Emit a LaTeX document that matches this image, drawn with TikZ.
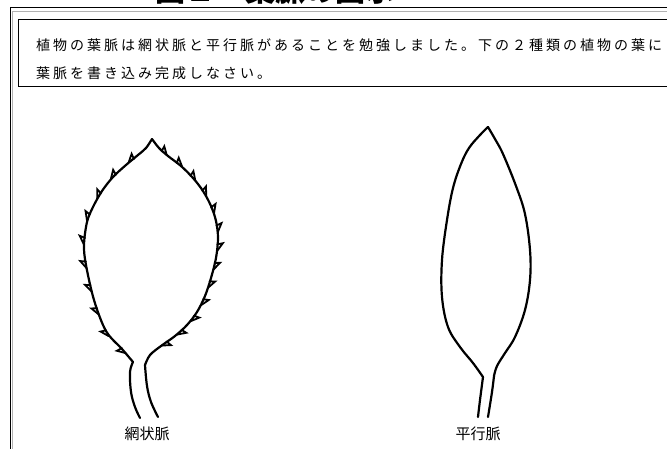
\documentclass[tikz,border=0pt]{standalone}
\usepackage{fontspec}
\newfontfamily\jp{Noto Sans CJK JP}
\newfontfamily\jpspaced[LetterSpace=21.4]{Noto Sans CJK JP}
\usetikzlibrary{decorations.markings}

\tikzset{
  frameline/.style={line width=1.3pt, draw=black},
  frameshade/.style={line width=1pt, draw=black!30},
  boxline/.style={line width=1.2pt, draw=black},
  leafline/.style={line width=2.2pt, line join=round, line cap=round},
  teethout/.style={postaction={decorate, decoration={markings,
      mark=between positions 0.07 and 0.95 step 24pt with
      {\draw[line width=1.8pt, line join=miter, line cap=round]
        (-7pt,0pt) -- (1pt,5pt) -- (-0.5pt,-0.5pt);}}}},
  teethin/.style={postaction={decorate, decoration={markings,
      mark=between positions 0.12 and 0.96 step 19pt with
      {\draw[line width=1.8pt, line join=miter, line cap=round]
        (-7pt,0pt) -- (1pt,-5pt) -- (-0.5pt,0.5pt);}}}},
  bodytext/.style={inner sep=0pt, anchor=west, font=\jpspaced\fontsize{14pt}{16pt}\selectfont},
  caption/.style={inner sep=0pt, font=\jp\fontsize{15pt}{17pt}\selectfont},
}

\begin{document}
\begin{tikzpicture}[x=1pt, y=-1pt]
  \useasboundingbox (0,0) rectangle (667,448);
  \fill[white] (0,0) rectangle (667,448);

  % heading, partly above the page's top edge
  \node[inner sep=0pt, anchor=south, font=\jp\bfseries\fontsize{30pt}{32pt}\selectfont]
    (heading) at (275,4.5) {図１　葉脈の図示};

  % outer frame (double rule) and the instruction box
  \draw[frameline] (10.5,470) -- (10.5,7.5) -- (690,7.5);
  \draw[frameshade] (12.8,470) -- (12.8,11.8) -- (690,11.8);
  \draw[boxline] (690,19.5) -- (18.5,19.5) -- (18.5,86.5) -- (690,86.5);

  \node[bodytext] (line1) at (36,45)
    {植物の葉脈は網状脈と平行脈があることを勉強しました。下の２種類の植物の葉に};
  \node[bodytext] (line2) at (36,73) {葉脈を書き込み完成しなさい。};

  % serrated leaf with a net of veins
  \draw[leafline, teethout] plot[smooth, tension=0.55] coordinates {
    (133,362) (122,349) (106,331) (94,300) (86,265) (84,245)
    (87,222) (93,207) (102,191) (113,177) (126,165) (138,155)
    (146,148) (152,139)};
  \draw[leafline, teethin] plot[smooth, tension=0.55] coordinates {
    (145,365) (150,355) (161,346) (175,336) (187,325) (197,312)
    (205,296) (211,278) (216,258) (218,238) (216,221) (211,206)
    (203,191) (193,178) (181,166) (168,156) (159,148) (152,139)};
  \draw[leafline] plot[smooth, tension=0.6] coordinates {
    (133,362) (130,372) (131,392) (135,407) (140,418)};
  \draw[leafline] plot[smooth, tension=0.6] coordinates {
    (145,365) (147,386) (151,402) (158,417)};

  % smooth-edged leaf with parallel veins
  \draw[leafline] plot[smooth, tension=0.6] coordinates {
    (488,127) (480,135) (469,148) (461,164) (453,188) (447,220)
    (442,260) (442,297) (448,327) (460,347) (473,363) (483,377)};
  \draw[leafline] plot[smooth, tension=0.6] coordinates {
    (488,127) (495,139) (503,154) (516,186) (525,214) (530,250)
    (530,280) (525,310) (515,337) (505,353) (497,366) (494,376)};
  \draw[leafline] plot[smooth, tension=0.6] coordinates {
    (483,377) (480,400) (478,417)};
  \draw[leafline] plot[smooth, tension=0.6] coordinates {
    (494,376) (492,392) (488,417)};

  \node[caption] (netlabel) at (147,434) {網状脈};
  \node[caption] (parlabel) at (478,434) {平行脈};
\end{tikzpicture}
\end{document}
